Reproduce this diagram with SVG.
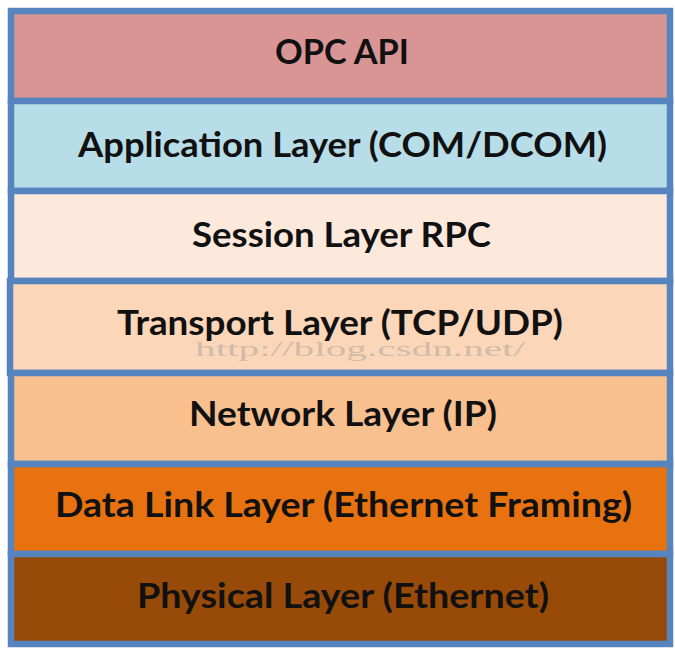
<svg xmlns="http://www.w3.org/2000/svg" width="675" height="648" viewBox="0 0 675 648">
<style>
.layer{stroke:#5584BF;stroke-width:6.5}
.lbl{font-family:Lato,"Open Sans","Liberation Sans",sans-serif;font-weight:bold;font-size:34px;fill:#111;text-anchor:middle}
.wm{font-family:"Liberation Serif","DejaVu Serif",serif;font-size:22px;fill:#9a9a9a;fill-opacity:0.45;text-anchor:middle}
</style>
<rect width="675" height="648" fill="#ffffff"/>
<g id="opc-api"><rect class="layer" x="11" y="11" width="659" height="90" fill="#D99594"/><text class="lbl" x="342" y="64" textLength="134" lengthAdjust="spacingAndGlyphs">OPC API</text></g>
<g id="application"><rect class="layer" x="11" y="101" width="659" height="90" fill="#B7DDE8"/><text class="lbl" x="342.5" y="157" textLength="529" lengthAdjust="spacingAndGlyphs">Application Layer (COM/DCOM)</text></g>
<g id="session"><rect class="layer" x="11" y="191" width="659" height="90" fill="#FCE9DB"/><text class="lbl" x="341.5" y="247" textLength="299" lengthAdjust="spacingAndGlyphs">Session Layer RPC</text></g>
<g id="transport"><rect class="layer" x="10" y="281" width="660" height="92" fill="#FBD6B8"/><text class="lbl" x="340" y="335" textLength="446" lengthAdjust="spacingAndGlyphs">Transport Layer (TCP/UDP)</text><text class="wm" x="360" y="356" textLength="330" lengthAdjust="spacingAndGlyphs">http://blog.csdn.net/</text></g>
<g id="network"><rect class="layer" x="11" y="373" width="659" height="91" fill="#F9C08F"/><text class="lbl" x="343" y="426" textLength="308" lengthAdjust="spacingAndGlyphs">Network Layer (IP)</text></g>
<g id="data-link"><rect class="layer" x="11" y="464" width="659" height="90" fill="#E8720F"/><text class="lbl" x="343.5" y="517" textLength="577" lengthAdjust="spacingAndGlyphs">Data Link Layer (Ethernet Framing)</text></g>
<g id="physical"><rect class="layer" x="11" y="554" width="659" height="90" fill="#984A08"/><text class="lbl" x="343" y="608" textLength="412" lengthAdjust="spacingAndGlyphs">Physical Layer (Ethernet)</text></g>
<g id="connectors"/>
</svg>
